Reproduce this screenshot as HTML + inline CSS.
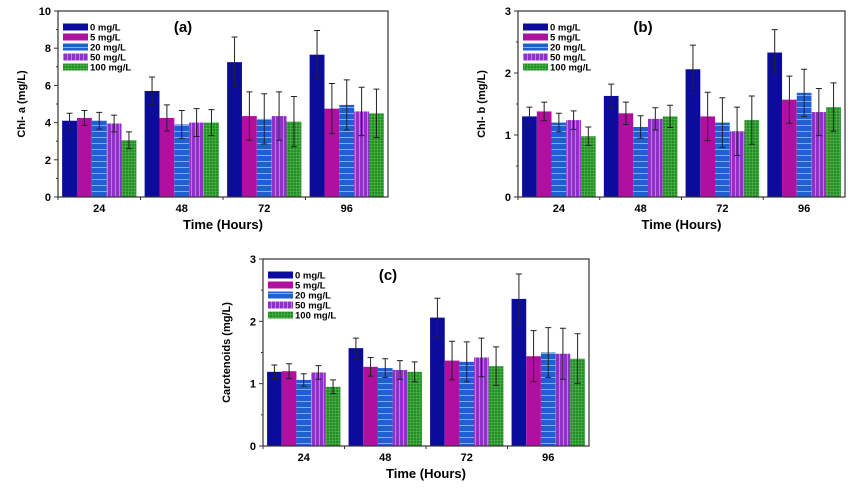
<!DOCTYPE html>
<html><head><meta charset="utf-8"><style>
body{margin:0;background:#fff;width:860px;height:484px;overflow:hidden}
svg{font-family:"Liberation Sans",Arial,sans-serif}
</style></head><body>
<svg id="s" width="860" height="484">
<defs>
<pattern id="p20" width="6" height="6" patternUnits="userSpaceOnUse"><rect width="6" height="6" fill="#1f5fd0"/><line x1="0" y1="5.5" x2="6" y2="5.5" stroke="#9fc0f0" stroke-width="0.8"/></pattern>
<pattern id="p50" width="4" height="6" patternUnits="userSpaceOnUse"><rect width="4" height="6" fill="#9030c8"/><line x1="3.5" y1="0" x2="3.5" y2="6" stroke="#c890f0" stroke-width="0.8"/></pattern>
<pattern id="p100" width="3" height="3" patternUnits="userSpaceOnUse"><rect width="3" height="3" fill="#1f8f1f"/><line x1="0" y1="2.6" x2="3" y2="2.6" stroke="#60b860" stroke-width="0.5"/><line x1="2.6" y1="0" x2="2.6" y2="3" stroke="#60b860" stroke-width="0.5"/></pattern>
</defs>
</svg>
<script>
const categories=["24","48","72","96"];
const seriesNames=["0 mg/L","5 mg/L","20 mg/L","50 mg/L","100 mg/L"];
const aVals=[[4.1,5.7,7.25,7.65],[4.25,4.25,4.35,4.75],[4.1,3.9,4.2,4.95],[3.95,4.0,4.35,4.6],[3.05,4.0,4.05,4.5]];
const aErr=[[0.4,0.75,1.35,1.3],[0.4,0.7,1.3,1.35],[0.45,0.75,1.35,1.35],[0.45,0.75,1.3,1.3],[0.45,0.7,1.35,1.3]];
const bVals=[[1.3,1.63,2.06,2.33],[1.38,1.35,1.3,1.57],[1.2,1.13,1.2,1.68],[1.24,1.26,1.06,1.37],[0.98,1.3,1.24,1.45]];
const bErr=[[0.15,0.19,0.39,0.37],[0.15,0.18,0.39,0.38],[0.15,0.18,0.4,0.38],[0.15,0.18,0.39,0.38],[0.15,0.18,0.39,0.39]];
const cVals=[[1.19,1.57,2.06,2.36],[1.2,1.27,1.37,1.44],[1.06,1.25,1.35,1.5],[1.18,1.22,1.42,1.48],[0.95,1.19,1.28,1.4]];
const cErr=[[0.11,0.16,0.31,0.4],[0.12,0.15,0.31,0.41],[0.1,0.15,0.32,0.4],[0.11,0.15,0.31,0.41],[0.11,0.16,0.31,0.4]];
const aTicks=[0,2,4,6,8,10];
const bTicks=[0,1,2,3];
const cTicks=[0,1,2,3];
const fills=["#0c0c9c","#b0109f","url(#p20)","url(#p50)","url(#p100)"];
const NS="http://www.w3.org/2000/svg";
const svg=document.getElementById('s');
function mk(t,a,p){const e=document.createElementNS(NS,t);for(const k in a)e.setAttribute(k,a[k]);(p||svg).appendChild(e);return e;}
function panel(id,L,R,T,B,ticks,minorStep,vals,errs,ylab,title){
  const g=mk('g',{});
  
  
  const ymax=ticks[ticks.length-1];
  const y=v=>B-(v/ymax)*(B-T);
  const gw=(R-L)/categories.length, bw=gw*0.9/seriesNames.length;
  const x=(i,s)=>L+gw*i+gw*0.05+bw*s;
  for(let s=0;s<vals.length;s++)for(let i=0;i<categories.length;i++){
    const v=vals[s][i];
    const r=mk('rect',{x:x(i,s),y:y(v),width:bw,height:B-y(v),fill:fills[s]},g);
    
    
    const cx=x(i,s)+bw/2,e=errs[s][i];
    const eb=mk('path',{d:`M${cx},${y(v+e)}V${y(v-e)}M${cx-3},${y(v+e)}H${cx+3}M${cx-3},${y(v-e)}H${cx+3}`,stroke:'#222','stroke-width':1,fill:'none'},g);
    
    
  }
  const fr=mk('rect',{x:L,y:T,width:R-L,height:B-T,fill:'none',stroke:'#333','stroke-width':1.2},g);
  
  
  for(let v=0;v<=ymax+1e-9;v+=minorStep){
    const maj=ticks.some(t=>Math.abs(t-v)<1e-6);
    mk('line',{x1:L-(maj?4:2),x2:L,y1:y(v),y2:y(v),stroke:'#333'},g);
  }
  ticks.forEach(t=>{const tx=mk('text',{x:L-7,y:y(t)+4,'text-anchor':'end','font-size':11,'font-weight':'bold'},g);tx.textContent=t;
    });
  categories.forEach((c,i)=>{
    mk('line',{x1:L+gw*i,x2:L+gw*i,y1:B,y2:B+3,stroke:'#333'},g);
    const tx=mk('text',{x:L+gw*(i+0.5),y:B+15,'text-anchor':'middle','font-size':11,'font-weight':'bold'},g);tx.textContent=c;
    
  });
  const xt=mk('text',{x:(L+R)/2,y:B+32,'text-anchor':'middle','font-size':13,'font-weight':'bold'},g);xt.textContent='Time (Hours)';
  
  const yt=mk('text',{x:0,y:0,transform:`translate(${L-33},${(T+B)/2}) rotate(-90)`,'text-anchor':'middle','font-size':11,'font-weight':'bold'},g);yt.textContent=ylab;
  
  const tt=mk('text',{x:L+125,y:T+21,'text-anchor':'middle','font-size':15,'font-weight':'bold'},g);tt.textContent=title;
  
  const lg=mk('g',{},g);
  
  seriesNames.forEach((n,s)=>{
    const ly=T+16+s*10;
    mk('rect',{x:L+5,y:ly-3.5,width:25,height:7,fill:fills[s]},lg);
    const lt=mk('text',{x:L+32,y:ly+3.5,'font-size':9.5,'font-weight':'bold'},lg);lt.textContent=n;
    
  });
}
panel('a',58,388,11,197,aTicks,1,aVals,aErr,'Chl- a (mg/L)','(a)');
panel('b',518,845,11,197,bTicks,0.5,bVals,bErr,'Chl- b (mg/L)','(b)');
panel('c',263,589,259,446,cTicks,0.5,cVals,cErr,'Carotenoids (mg/L)','(c)');
</script>
</body></html>
